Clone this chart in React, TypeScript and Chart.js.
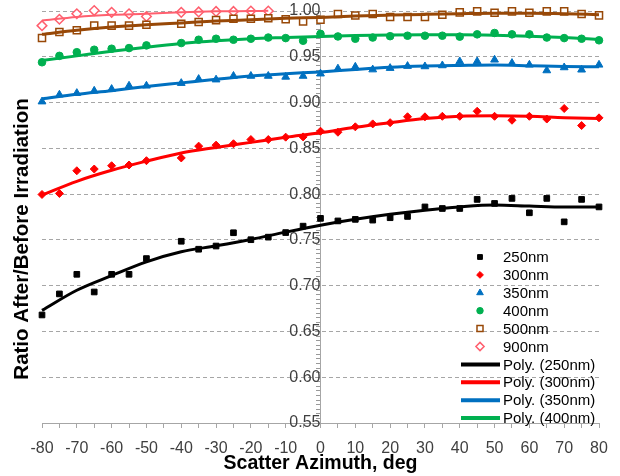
import React, { useEffect, useRef } from 'react';
import { Chart, registerables } from 'chart.js';
import { drawPoint } from 'chart.js/helpers';

Chart.register(...registerables);

const FONT = "'Liberation Sans', Arial, sans-serif";

// Measured scatter azimuths (deg); -45 was not measured
const azimuth = [-80, -75, -70, -65, -60, -55, -50, -40, -35, -30, -25, -20, -15, -10, -5, 0, 5, 10, 15, 20, 25, 30, 35, 40, 45, 50, 55, 60, 65, 70, 75, 80];
const azimuth900 = [-80, -75, -70, -65, -60, -55, -50, -40, -35, -30, -25, -20, -15];

const ratio250 = [0.668, 0.691, 0.7124, 0.6931, 0.7124, 0.7124, 0.7296, 0.7485, 0.7398, 0.7433, 0.7578, 0.7502, 0.753, 0.758, 0.765, 0.7735, 0.7707, 0.7724, 0.7716, 0.7742, 0.7756, 0.786, 0.7843, 0.7843, 0.7942, 0.7898, 0.7953, 0.7796, 0.7953, 0.7697, 0.7942, 0.786];
const ratio300 = [0.7996, 0.8007, 0.8255, 0.8274, 0.831, 0.8318, 0.8365, 0.8395, 0.8524, 0.8535, 0.855, 0.8596, 0.8596, 0.8622, 0.8625, 0.8687, 0.8676, 0.8735, 0.8767, 0.878, 0.8845, 0.8844, 0.885, 0.885, 0.8905, 0.885, 0.8807, 0.885, 0.882, 0.8935, 0.8749, 0.8833];
const ratio350 = [0.901, 0.9085, 0.9103, 0.9128, 0.9147, 0.9183, 0.9183, 0.9212, 0.9256, 0.925, 0.929, 0.929, 0.929, 0.928, 0.929, 0.9315, 0.937, 0.939, 0.936, 0.9376, 0.9398, 0.9394, 0.9405, 0.9449, 0.9449, 0.9467, 0.9431, 0.9412, 0.935, 0.9383, 0.9358, 0.9412];
const ratio400 = [0.944, 0.951, 0.955, 0.9577, 0.9588, 0.9595, 0.9624, 0.965, 0.9686, 0.9697, 0.9686, 0.9697, 0.971, 0.9704, 0.9675, 0.975, 0.9722, 0.9697, 0.971, 0.9725, 0.973, 0.973, 0.973, 0.972, 0.9745, 0.976, 0.9745, 0.9745, 0.971, 0.9704, 0.9697, 0.968];
const ratio500 = [0.9705, 0.977, 0.979, 0.984, 0.984, 0.984, 0.985, 0.986, 0.988, 0.99, 0.9916, 0.9916, 0.992, 0.991, 0.9886, 0.9905, 0.9967, 0.995, 0.9967, 0.9934, 0.9934, 0.9934, 0.996, 0.9985, 0.9996, 0.998, 0.9996, 0.998, 0.9996, 0.9996, 0.9967, 0.9952];
const ratio900 = [0.984, 0.991, 0.997, 1.0005, 0.9985, 0.997, 0.994, 0.9985, 0.999, 0.9995, 0.9995, 1.0, 1.0];

// Polynomial trendlines
const trendAzimuth = [-80, -70, -60, -50, -40, -30, -20, -10, 0, 10, 20, 30, 40, 50, 60, 70, 80];
const trend250 = [0.673, 0.695, 0.711, 0.726, 0.737, 0.7435, 0.7505, 0.7585, 0.766, 0.7725, 0.778, 0.7825, 0.786, 0.788, 0.787, 0.786, 0.786];
const trend300 = [0.799, 0.814, 0.826, 0.836, 0.845, 0.851, 0.8565, 0.862, 0.867, 0.873, 0.878, 0.8825, 0.885, 0.8855, 0.885, 0.8835, 0.8825];
const trend350 = [0.9040, 0.909, 0.913, 0.9175, 0.9215, 0.9255, 0.929, 0.9315, 0.9335, 0.9362, 0.9385, 0.9398, 0.9405, 0.941, 0.9403, 0.9395, 0.939];
const trend400 = [0.946, 0.951, 0.956, 0.9605, 0.9645, 0.9675, 0.9697, 0.971, 0.9722, 0.9732, 0.9738, 0.974, 0.974, 0.9735, 0.9725, 0.971, 0.969];
const trend500 = [0.9745, 0.979, 0.9825, 0.985, 0.987, 0.989, 0.9905, 0.992, 0.993, 0.9945, 0.9955, 0.9963, 0.997, 0.9975, 0.9975, 0.997, 0.996];
const trend900Azimuth = [-80, -70, -60, -50, -40, -30, -20, -15];
const trend900 = [0.9897, 0.9935, 0.9958, 0.997, 0.9985, 0.9996, 1.0, 1.0003];

const seriesNames = ['250nm', '300nm', '350nm', '400nm', '500nm', '900nm'];
const trendNames = ['Poly. (250nm)', 'Poly. (300nm)', 'Poly. (350nm)', 'Poly. (400nm)', 'Poly. (500nm)', 'Poly. (900nm)'];
const xTitle = 'Scatter Azimuth, deg';
const yTitle = 'Ratio After/Before Irradiation';

const COLORS = ['#000000', '#ff0000', '#0070c0', '#00b050', '#984807', '#ff5f6e'];

const pts = (xs: number[], ys: number[]) => xs.map((x, i) => ({ x, y: ys[i] }));
const isMajorY = (v: number) => Math.round(v * 1000) % 50 === 0;

const legendPlugin = {
  id: 'xlDecor',
  afterDraw(chart: any) {
    const ctx = chart.ctx;
    ctx.save();
    // y-axis title
    ctx.translate(22, 239);
    ctx.rotate(-Math.PI / 2);
    ctx.font = `bold 20.5px ${FONT}`;
    ctx.fillStyle = '#000';
    ctx.textAlign = 'center';
    ctx.textBaseline = 'middle';
    ctx.fillText(yTitle, 0, 0);
    ctx.restore();

    // legend (inside plot, bottom right)
    const items = chart.data.datasets.filter((d: any) => d.inLegend).sort((a: any, b: any) => a.legendIndex - b.legendIndex);
    const x0 = 480;
    const textX = 503;
    const rowY0 = 257;
    const rowH = 17.9;
    ctx.save();
    ctx.font = `15px ${FONT}`;
    ctx.textBaseline = 'middle';
    ctx.textAlign = 'left';
    items.forEach((d: any, i: number) => {
      const y = rowY0 + i * rowH;
      if (d.showLine) {
        ctx.strokeStyle = d.borderColor;
        ctx.lineWidth = 4;
        ctx.beginPath();
        ctx.moveTo(461, y);
        ctx.lineTo(500, y);
        ctx.stroke();
      } else {
        ctx.fillStyle = d.backgroundColor;
        ctx.strokeStyle = d.borderColor;
        ctx.lineWidth = d.pointBorderWidth;
        drawPoint(ctx, { pointStyle: d.pointStyle, radius: d.pointRadius * 0.85, rotation: 0, borderWidth: d.pointBorderWidth }, x0, y);
      }
      ctx.fillStyle = '#000';
      ctx.fillText(d.label, textX, y + 1);
    });
    ctx.restore();
  },
};

export default function App() {
  const ref = useRef<HTMLCanvasElement>(null);
  useEffect(() => {
    const markers = [
      { style: 'rect', r: 4, fill: COLORS[0], bw: 1 },
      { style: 'rectRot', r: 4, fill: COLORS[1], bw: 1 },
      { style: 'triangle', r: 4.5, fill: COLORS[2], bw: 1 },
      { style: 'circle', r: 3.8, fill: COLORS[3], bw: 1 },
      { style: 'rect', r: 5, fill: '#ffffff', bw: 1.5 },
      { style: 'rectRot', r: 4.8, fill: '#ffffff', bw: 1.5 },
    ];
    const ratios = [ratio250, ratio300, ratio350, ratio400, ratio500, ratio900];
    const trends = [trend250, trend300, trend350, trend400, trend500, trend900];
    const scatterSets = ratios.map((r, i) => ({
      label: seriesNames[i],
      data: pts(i === 5 ? azimuth900 : azimuth, r),
      showLine: false,
      pointStyle: markers[i].style,
      pointRadius: markers[i].r,
      pointHoverRadius: markers[i].r,
      pointBorderWidth: markers[i].bw,
      backgroundColor: markers[i].fill,
      borderColor: COLORS[i],
      pointBackgroundColor: markers[i].fill,
      pointBorderColor: COLORS[i],
      order: 1,
      clip: false,
      inLegend: true,
      legendIndex: i,
    }));
    const trendSets = trends.map((t, i) => ({
      label: trendNames[i],
      data: pts(i === 5 ? trend900Azimuth : trendAzimuth, t),
      showLine: true,
      pointRadius: 0,
      pointHoverRadius: 0,
      borderColor: COLORS[i],
      backgroundColor: COLORS[i],
      borderWidth: i === 5 ? 2 : 3,
      cubicInterpolationMode: 'monotone',
      fill: false,
      order: 0,
      clip: false,
      inLegend: i < 4,
      legendIndex: 6 + i,
    }));

    const chart = new Chart(ref.current as HTMLCanvasElement, {
      type: 'scatter',
      data: { datasets: [...scatterSets, ...trendSets] as any },
      options: {
        animation: false,
        responsive: false,
        events: [],
        layout: { padding: { left: 42, right: 21, top: 11, bottom: 0 } },
        plugins: { legend: { display: false }, tooltip: { enabled: false } },
        scales: {
          x: {
            type: 'linear',
            position: 'bottom',
            min: -80,
            max: 80,
            ticks: {
              stepSize: 5,
              autoSkip: false,
              maxTicksLimit: 100,
              maxRotation: 0,
              padding: 11,
              color: '#404040',
              font: { family: FONT, size: 16 },
              callback: (v: any) => (Math.round(Number(v)) % 10 === 0 ? String(Math.round(Number(v))) : ''),
            },
            grid: { drawOnChartArea: false, tickLength: 5, color: '#a6a6a6' },
            border: { display: true, color: '#a6a6a6', width: 1 },
            title: {
              display: true,
              text: xTitle,
              color: '#000',
              font: { family: FONT, size: 19.5, weight: 'bold' },
              padding: { top: 0, bottom: 1 },
            },
            afterFit: (s: any) => {
              s.height = 53;
              s.paddingLeft = 0;
              s.paddingRight = 0;
            },
          },
          y: {
            type: 'linear',
            position: { x: 0 } as any,
            min: 0.55,
            max: 1.0,
            ticks: {
              stepSize: 0.005,
              autoSkip: false,
              maxTicksLimit: 1000,
              padding: 18,
              color: '#404040',
              font: { family: FONT, size: 16 },
              callback: (v: any) => (isMajorY(Number(v)) ? Number(v).toFixed(2) : ''),
            },
            grid: {
              color: (c: any) => (c.tick && isMajorY(c.tick.value) ? '#a6a6a6' : 'rgba(0,0,0,0)'),
              tickColor: '#999999',
              tickLength: 4,
              lineWidth: 1,
            },
            border: { display: true, color: '#a6a6a6', width: 1, dash: [4, 3] },
            afterFit: (s: any) => {
              s.paddingTop = 0;
              s.paddingBottom = 0;
            },
          },
        },
      },
      plugins: [legendPlugin],
    } as any);
    return () => chart.destroy();
  }, []);

  return (
    <div style={{ position: 'fixed', left: 0, top: 0, width: 620, height: 476, background: '#fff' }}>
      <canvas ref={ref} width={620} height={476} />
    </div>
  );
}
